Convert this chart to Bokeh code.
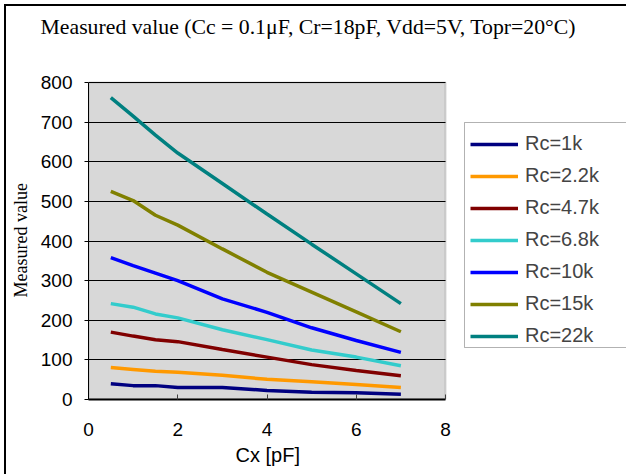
from bokeh.plotting import figure
from bokeh.models import Legend, LegendItem, FixedTicker, Range1d, BoxAnnotation, Title
from bokeh.embed import file_html
from bokeh.resources import INLINE

# ---- data ----
cx = [0.5, 1, 1.5, 2, 3, 4, 5, 6, 7]
rc_1k = [40, 35, 35, 30, 30, 23, 18, 17, 13]
rc_2_2k = [81, 76, 71, 69, 61, 51, 45, 38, 30]
rc_4_7k = [170, 160, 151, 146, 126, 107, 88, 73, 60]
rc_6_8k = [242, 233, 216, 206, 176, 151, 125, 107, 85]
rc_10k = [358, 338, 319, 300, 254, 220, 181, 149, 119]
rc_15k = [525, 502, 465, 440, 380, 321, 271, 221, 171]
rc_22k = [762, 715, 667, 622, 545, 468, 392, 317, 242]

series_names = ["Rc=1k", "Rc=2.2k", "Rc=4.7k", "Rc=6.8k", "Rc=10k", "Rc=15k", "Rc=22k"]
series_values = [rc_1k, rc_2_2k, rc_4_7k, rc_6_8k, rc_10k, rc_15k, rc_22k]
series_colors = ["#000080", "#FF9900", "#800000", "#33CCCC", "#0000FF", "#808000", "#008080"]

x_ticks = [0, 2, 4, 6, 8]
y_ticks = [0, 100, 200, 300, 400, 500, 600, 700, 800]
x_min, x_max = 0, 8
y_min, y_max = 0, 800

title_text = "Measured value (Cc = 0.1\u03bcF, Cr=18pF, Vdd=5V, Topr=20\u00b0C)"
x_title = "Cx [pF]"
y_title = "Measured value"

SANS = "Liberation Sans"
SERIF = "Liberation Serif"

W, H = 626, 474
PLOT_L, PLOT_R, PLOT_T, PLOT_B = 88, 445, 82, 399
FRAME_T = 39
# The frame runs to the right edge (for the legend) and a little above the
# plot area; axes and grid are bounded to the 0..8 / 0..800 plot area.
x_end = x_max * (W - PLOT_L) / (PLOT_R - PLOT_L)
y_end = y_max * (PLOT_B - FRAME_T) / (PLOT_B - PLOT_T)

p = figure(width=W, height=H, output_backend="svg", toolbar_location=None,
           x_range=Range1d(x_min, x_end), y_range=Range1d(y_min, y_end),
           min_border_left=PLOT_L, min_border_right=0, min_border_top=FRAME_T,
           min_border_bottom=H - PLOT_B)
p.background_fill_color = None
p.border_fill_color = None
p.outline_line_color = None
# chart-area border (left and top edges; right/bottom lie outside the view)
p.styles = {
    "background-color": "white",
    "background-image": "linear-gradient(black, black), linear-gradient(black, black)",
    "background-size": "2px 100%, 100% 2px",
    "background-position": "4px 4px, 4px 4px",
    "background-repeat": "no-repeat, no-repeat",
}

# chart title (above panel)
p.title.text = title_text
p.title.text_font = SERIF
p.title.text_font_size = "21.75px"
p.title.text_font_style = "normal"
p.title.text_color = "black"
p.title.align = "left"
p.title.offset = 40 - PLOT_L
p.title.vertical_align = "middle"
p.title.standoff = 0

# gray plot area
p.add_layout(BoxAnnotation(left=x_min, right=x_max, bottom=y_min, top=y_max,
                           fill_color="#d8d8d8", fill_alpha=1,
                           line_color="#808080", line_width=2, level="image"))

p.xgrid.visible = False
p.ygrid.grid_line_color = "black"
p.ygrid.grid_line_width = 1
p.ygrid.ticker = FixedTicker(ticks=y_ticks)
grid = p.ygrid[0]
if "cross_bounds" in grid.properties():
    grid.cross_bounds = (x_min, x_max)
else:
    grid.visible = False
    p.segment(x0=[x_min] * len(y_ticks), x1=[x_max] * len(y_ticks), y0=y_ticks,
              y1=y_ticks, line_color="black", line_width=1, level="underlay")

p.xaxis.ticker = FixedTicker(ticks=x_ticks)
p.yaxis.ticker = FixedTicker(ticks=y_ticks)
p.xaxis.bounds = (x_min, x_max)
p.yaxis.bounds = (y_min, y_max)
p.xaxis.minor_tick_line_color = None
p.yaxis.minor_tick_line_color = None

p.xaxis.axis_line_color = "black"
p.xaxis.axis_line_width = 2
p.xaxis.major_tick_in = 5
p.xaxis.major_tick_out = 0
p.xaxis.major_tick_line_color = "#404040"
p.xaxis.major_label_standoff = 23
p.xaxis.major_label_text_font = SANS
p.xaxis.major_label_text_font_size = "19px"
p.xaxis.major_label_text_color = "black"

p.yaxis.axis_line_color = "black"
p.yaxis.axis_line_width = 1
p.yaxis.major_tick_in = 0
p.yaxis.major_tick_out = 4
p.yaxis.major_tick_line_color = "black"
p.yaxis.major_label_standoff = 12
p.yaxis.major_label_text_font = SANS
p.yaxis.major_label_text_font_size = "19px"
p.yaxis.major_label_text_color = "black"

# axis titles as side-panel titles so they centre on the plot area, not the frame
p.add_layout(Title(text=x_title, text_font=SANS, text_font_size="20px",
                   text_font_style="normal", text_color="black", align="left",
                   offset=235 - PLOT_L, vertical_align="bottom", standoff=7), "below")
p.add_layout(Title(text=y_title, text_font=SERIF, text_font_size="18px",
                   text_font_style="normal", text_color="black", align="left",
                   offset=PLOT_B - 297, vertical_align="middle", standoff=11), "left")

items = []
for name, vals, col in zip(series_names, series_values, series_colors):
    r = p.line(cx, vals, line_color=col, line_width=3.5)
    items.append(LegendItem(label=name, renderers=[r]))

# legend frame (open on the right, as in the cropped reference)
p.add_layout(BoxAnnotation(left=464, right=W + 50, top=122, bottom=347,
                           left_units="canvas", right_units="canvas",
                           top_units="canvas", bottom_units="canvas",
                           fill_color="white", fill_alpha=1,
                           line_color="black", line_width=1))

legend = Legend(items=items, location=(382, 52), padding=0, margin=0,
                border_line_color=None, background_fill_alpha=0,
                glyph_width=48, glyph_height=22, spacing=9, label_standoff=7,
                label_text_font=SANS, label_text_font_size="20px",
                label_height=22)
p.add_layout(legend, "center")

open("out.html", "w").write(file_html(p, INLINE))
